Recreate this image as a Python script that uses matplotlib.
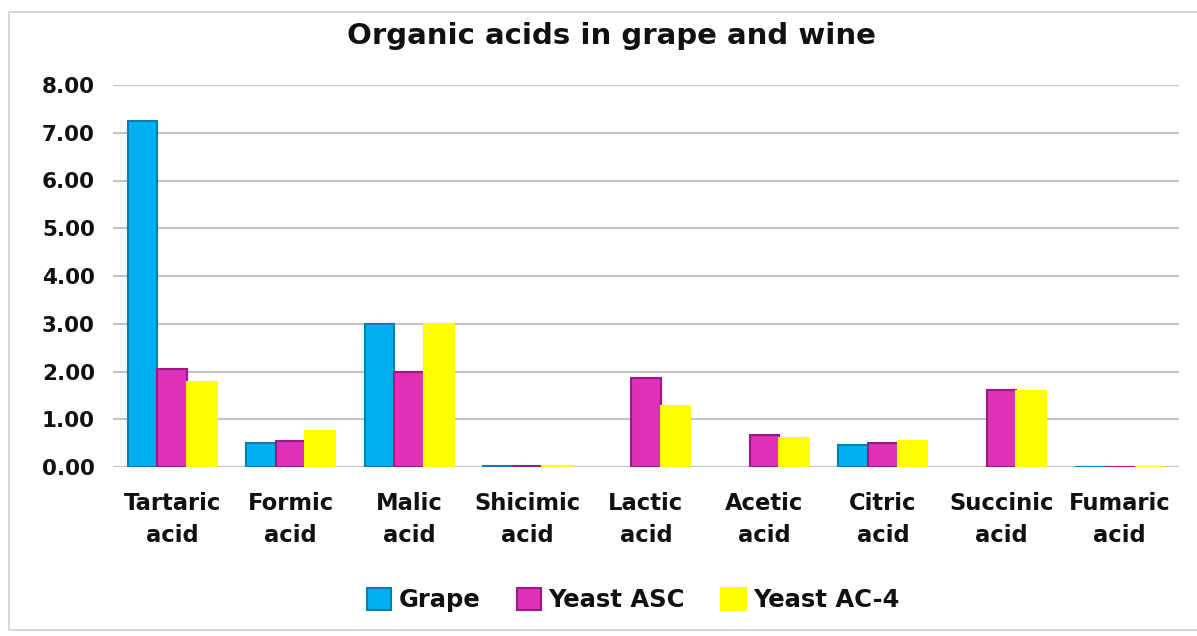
import numpy as np
import matplotlib.pyplot as plt

categories = ["Tartaric\nacid", "Formic\nacid", "Malic\nacid", "Shicimic\nacid", "Lactic\nacid",
              "Acetic\nacid", "Citric\nacid", "Succinic\nacid", "Fumaric\nacid"]
grape = [7.25, 0.50, 3.00, 0.02, 0.0, 0.0, 0.47, 0.0, 0.01]
yeast_asc = [2.05, 0.55, 2.00, 0.03, 1.87, 0.67, 0.50, 1.61, 0.01]
yeast_ac4 = [1.78, 0.76, 3.00, 0.02, 1.28, 0.61, 0.54, 1.59, 0.01]
series_names = ["Grape", "Yeast ASC", "Yeast AC-4"]
yticks = [0, 1, 2, 3, 4, 5, 6, 7, 8]

colors = ["#00B0F0", "#DE30B8", "#FFFF00"]
edges = ["#0A7DB8", "#9E1884", "#FFFF00"]

plt.rcParams['font.family'] = ['DejaVu Sans']
plt.rcParams['text.color'] = '#111111'

fig = plt.figure(figsize=(11.97, 6.36), dpi=100)
ax = fig.add_axes([113/1197, 1-467/636, (1179-113)/1197, (467-85)/636])

x = np.arange(len(categories))
w = 0.25
for i, (vals, name) in enumerate(zip([grape, yeast_asc, yeast_ac4], series_names)):
    lw = [1.5 if v > 0 else 0 for v in vals]
    ax.bar(x + (i-1)*w, vals, w, color=colors[i], edgecolor=edges[i], linewidth=lw,
           label=name, zorder=3)

ax.set_xlim(-0.5, len(categories)-0.5)
ax.set_ylim(0, 8)
ax.set_yticks(yticks)
ax.set_yticklabels([f"{v:.2f}" for v in yticks], fontsize=15.5, fontweight='bold', color='#111111')
ax.set_xticks(x)
ax.set_xticklabels(categories, fontsize=16.3, fontweight='bold', linespacing=1.5, color='#111111')
ax.tick_params(axis='both', length=0)
ax.tick_params(axis='y', pad=13)
ax.tick_params(axis='x', pad=18)
ax.grid(axis='y', color='#c4c4c4', linewidth=1.6, zorder=0)
for s in ax.spines.values():
    s.set_visible(False)

fig.text(0.511, 1-36/636, "Organic acids in grape and wine", ha='center', va='center',
         fontsize=21, fontweight='bold')

leg = fig.legend(loc='center', bbox_to_anchor=(0.529, 1-600/636), ncol=3, frameon=False,
                 prop={'size': 17.5, 'weight': 'bold'}, handlelength=1.0, handleheight=1.0,
                 handletextpad=0.3, columnspacing=1.5)
for h, e in zip(leg.legend_handles, edges):
    h.set_linewidth(1.5)
    h.set_edgecolor(e)

fig.patches.append(plt.Rectangle((9/1197, 1-630/636), 1.0, (630-12)/636, transform=fig.transFigure,
                                 fill=False, edgecolor='#d0d0d0', linewidth=1.2))

fig.savefig("out.png", dpi=100)
